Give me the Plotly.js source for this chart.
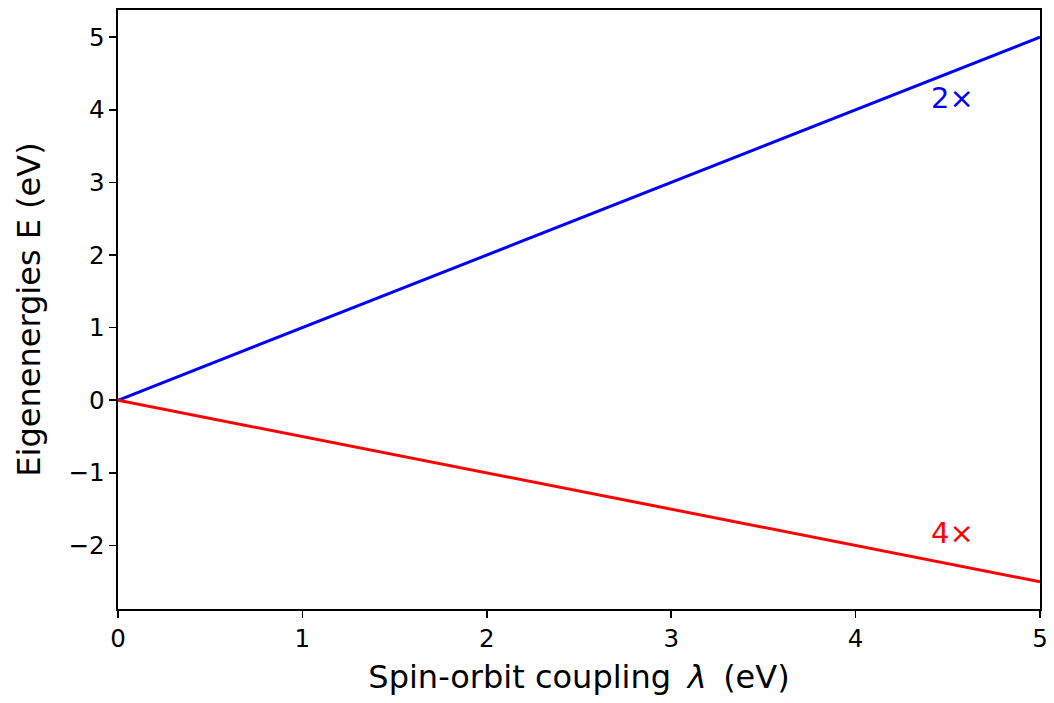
<!DOCTYPE html>
<html>
<head>
<meta charset="utf-8">
<script src="https://cdn.plot.ly/plotly-3.0.1.min.js"></script>
<style>html,body{margin:0;padding:0;background:#fff;}#plot{width:1054px;height:703px;}</style>
</head>
<body>
<div id="plot"></div>
<script>
const lambdaVals = [0, 5];
const upperEnergy = [0, 5];
const lowerEnergy = [0, -2.5];
const labelUpper = "2×";
const labelLower = "4×";
const labelPosX = [4.4, 4.4];
const labelPosY = [4.0, -2.0];
const xTicks = [0, 1, 2, 3, 4, 5];
const yTicks = [-2, -1, 0, 1, 2, 3, 4, 5];

const font = "DejaVu Sans, sans-serif";
const traces = [
  {x: lambdaVals, y: upperEnergy, mode: "lines", line: {color: "#0000ff", width: 3}, hoverinfo: "none"},
  {x: lambdaVals, y: lowerEnergy, mode: "lines", line: {color: "#ff0000", width: 3}, hoverinfo: "none"}
];
const axisCommon = {
  showgrid: false, zeroline: false, showline: true, mirror: true,
  linecolor: "#000", linewidth: 1.6, ticks: "outside", ticklen: 7, tickwidth: 1.6,
  tickcolor: "#000", tickfont: {family: font, size: 24.5, color: "#000"}
};
const layout = {
  width: 1054, height: 703,
  margin: {l: 118, r: 14, t: 10, b: 94},
  paper_bgcolor: "#fff", plot_bgcolor: "#fff",
  showlegend: false,
  xaxis: Object.assign({}, axisCommon, {
    range: [0, 5], tickvals: xTicks,
    title: {text: "Spin-orbit coupling\u2009 <i>λ</i> \u2009(eV)", font: {family: font, size: 32, color: "#000"}, standoff: 13}
  }),
  yaxis: Object.assign({}, axisCommon, {
    range: [-2.875, 5.375], tickvals: yTicks,
    title: {text: "Eigenenergies E (eV)", font: {family: font, size: 32, color: "#000"}, standoff: 18}
  }),
  annotations: [
    {x: labelPosX[0], y: labelPosY[0], text: labelUpper, showarrow: false, xanchor: "left", yanchor: "bottom",
     font: {family: font, size: 29, color: "#0000ff"}, yshift: -7},
    {x: labelPosX[1], y: labelPosY[1], text: labelLower, showarrow: false, xanchor: "left", yanchor: "bottom",
     font: {family: font, size: 29, color: "#ff0000"}, yshift: -7}
  ]
};
Plotly.newPlot("plot", traces, layout, {staticPlot: true, displayModeBar: false});
</script>
</body>
</html>
